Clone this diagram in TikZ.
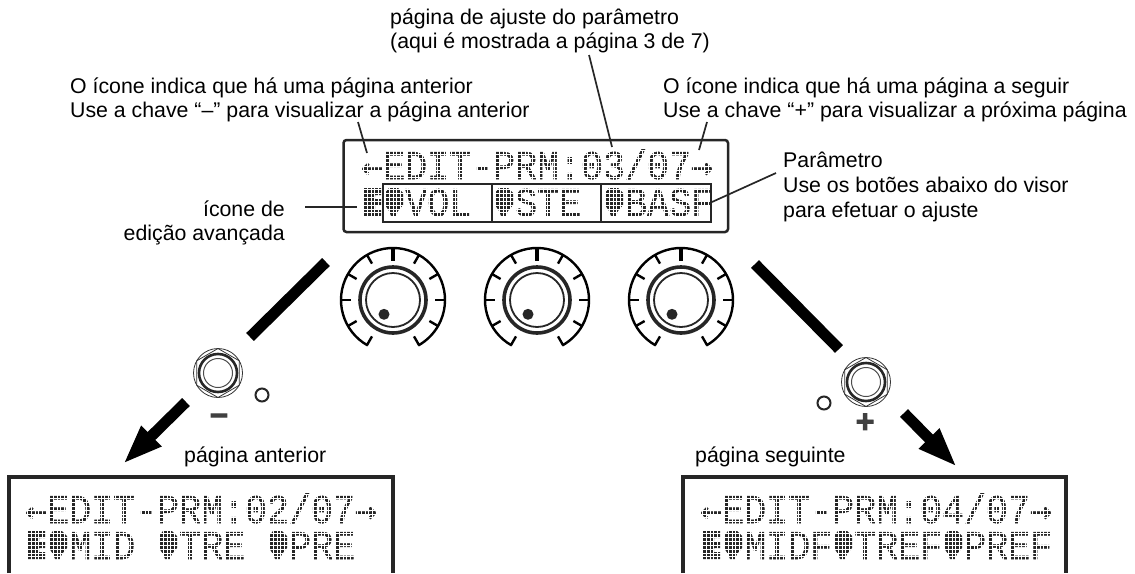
\documentclass[tikz,border=0pt]{standalone}
\usepackage{fontspec}
\setmainfont{Liberation Sans}
\newfontfamily\lcdfont[FakeStretch=0.9,FakeBold=1.5]{Liberation Mono}
\newfontfamily\lcdarrowfont[FakeBold=1.5]{DejaVu Sans Mono}
\newfontfamily\signfont[FakeBold=3]{Liberation Sans Bold}
\usetikzlibrary{arrows.meta}
\colorlet{lcddot}{black!85}
\colorlet{framedark}{black!85}
\newcommand{\lcdleft}{{\lcdarrowfont\fontsize{36.5}{40}\selectfont ←}}
\newcommand{\lcdright}{{\lcdarrowfont\fontsize{36.5}{40}\selectfont →}}
\tikzset{
    note/.style={font=\fontsize{21.3}{24}\selectfont, align=left, inner sep=0pt, anchor=north west},
    lcd/.style={font=\lcdfont\fontsize{40.7}{40}\selectfont, text=lcddot, inner sep=0pt, anchor=base west, text height=27pt, text depth=0pt},
    sign/.style={font=\signfont\fontsize{32}{32}\selectfont, text=black!75, inner sep=0pt},
    leader/.style={black!85, line width=1.7pt},
    bar/.style={black, line width=11pt},
    bararrow/.style={black, line width=11pt, -{Triangle[length=40pt,width=26pt]}},
    knob/.pic={
        \draw[line width=2.4pt](119:52) arc (119:421:52);
        \foreach \a in {120,150,...,420}{
            \draw[line width=2.4pt](\a:52)--(\a:42);
        }
        \draw[line width=3.6pt](270:52)--(270:39);
        \draw[black!85, line width=3.6pt](0,0) circle (33);
        \draw[black!85, line width=1.8pt](0,0) circle (27);
        \fill[black!85](-9,14.3) circle (5.5);
    },
    footswitch/.pic={
        \draw[black!80, line width=0.8pt](0,0) circle (24.5);
        \draw[black!80, line width=0.8pt](90:24.5)--(150:24.5)--(210:24.5)--(270:24.5)--(330:24.5)--(30:24.5)--cycle;
        \draw[black!85, line width=2.6pt](0,0) circle (19);
        \draw[black!70, line width=1pt](0,0) circle (14.5);
    },
    ledring/.pic={
        \draw[black!85, line width=2pt](0,0) circle (6.5);
    },
}
\newcommand{\lcdedit}[2]{% block icon of the first cell
    \fill[lcddot](#1+2,#2-28)--(#1+20,#2-28)--(#1+20,#2-21)--(#1+14,#2-21)--(#1+14,#2-17)--(#1+20,#2-17)--(#1+20,#2-11)--(#1+14,#2-11)--(#1+14,#2-7)--(#1+20,#2-7)--(#1+20,#2)--(#1+2,#2)--cycle;
}
\newcommand{\lcdknob}[2]{% knob icon in front of a parameter
    \fill[lcddot](#1+6,#2-28)--(#1+15,#2-28)--(#1+20,#2-23)--(#1+20,#2-11)--(#1+15,#2-5)--(#1+13,#2)--(#1+8,#2)--(#1+6,#2-5)--(#1+2,#2-11)--(#1+2,#2-23)--cycle;
}
\newcommand{\lcdmask}[3]{% white dot grid laid over two text lines
    \foreach \k in {0,...,96}{
        \draw[white, line width=0.9pt](#1+\k*3.667,#2)--(#1+\k*3.667,#3);
    }
    \foreach \k in {0,...,17}{
        \draw[white, line width=0.9pt](#1,#2+\k*3.9)--(#1+352,#2+\k*3.9);
    }
}
\begin{document}
\begin{tikzpicture}[x=1pt,y=-1pt]
    \useasboundingbox (0,0) rectangle (1135,573);

    \node[note] (notepage) at (390,9) {página de ajuste do parâmetro\\(aqui é mostrada a página 3 de 7)};
    \node[note] (noteprev) at (70,78) {O ícone indica que há uma página anterior\\Use a chave “–” para visualizar a página anterior};
    \node[note] (notenext) at (663,78) {O ícone indica que há uma página a seguir\\Use a chave “+” para visualizar a próxima página};
    \node[note] (noteparam) at (783,152) {Parâmetro\\[1pt]Use os botões abaixo do visor\\[1pt]para efetuar o ajuste};
    \node[note, align=right, anchor=north east] (noteedit) at (285,201) {ícone de\\edição avançada};
    \node[note] (noteback) at (184,447) {página anterior};
    \node[note] (noteforward) at (695,447) {página seguinte};

    % main display
    \lcdedit{361}{216}
    \foreach \x in {383,493,603}{
        \lcdknob{\x}{216}
    }
    \node[lcd] (lcdtop) at (361,179) {\lcdleft EDIT-PRM:03/07\lcdright};
    \node[lcd] (lcdvol) at (405,216) {VOL};
    \node[lcd] (lcdste) at (515,216) {STE};
    \node[lcd] (lcdbasf) at (625,216) {BASF};
    \lcdmask{360}{150.5}{218}
    \draw[framedark, line width=2.5pt, rounded corners=3pt](343.5,140) rectangle (728,232);
    \draw[framedark, line width=2.2pt](383,184) rectangle (711,222);
    \foreach \x in {492,601}{
        \draw[framedark, line width=2.2pt](\x,184)--(\x,222);
    }

    \coordinate (prevtop) at (358,122);
    \coordinate (prevend) at (367,153);
    \coordinate (pagetop) at (589,55);
    \coordinate (pageend) at (612,147);
    \coordinate (nexttop) at (707,122);
    \coordinate (nextend) at (699,150);
    \coordinate (paramtop) at (776,173);
    \coordinate (paramend) at (712,202);
    \coordinate (editstart) at (305,207);
    \coordinate (editend) at (357,207);
    \draw[leader](prevtop)--(prevend);
    \draw[leader](pagetop)--(pageend);
    \draw[leader](nexttop)--(nextend);
    \draw[leader](paramtop)--(paramend);
    \draw[leader](editstart)--(editend);

    % knobs and switches
    \foreach \x in {393,537,681}{
        \pic at (\x,300) {knob};
    }
    \pic at (218,373) {footswitch};
    \pic at (866,382) {footswitch};
    \pic at (262,395) {ledring};
    \pic at (824,403) {ledring};
    \node[sign] (minus) at (219,419) {–};
    \node[sign] (plus) at (865,423) {+};

    \coordinate (barlefttop) at (326,262);
    \coordinate (barleftend) at (250,337);
    \coordinate (barrighttop) at (755,264);
    \coordinate (barrightend) at (839,349);
    \coordinate (arrowleftstart) at (186,402);
    \coordinate (arrowlefttip) at (123,464);
    \coordinate (arrowrightstart) at (904,413);
    \coordinate (arrowrighttip) at (957,467);
    \draw[bar](barlefttop)--(barleftend);
    \draw[bar](barrighttop)--(barrightend);
    \draw[bararrow](arrowleftstart)--(arrowlefttip);
    \draw[bararrow](arrowrightstart)--(arrowrighttip);

    % previous page display
    \lcdedit{25}{559}
    \foreach \x in {47,157,267}{
        \lcdknob{\x}{559}
    }
    \node[lcd] (lcdprevtop) at (25,523) {\lcdleft EDIT-PRM:02/07\lcdright};
    \node[lcd] (lcdmid) at (69,559) {MID};
    \node[lcd] (lcdtre) at (179,559) {TRE};
    \node[lcd] (lcdpre) at (289,559) {PRE};
    \lcdmask{24}{494.5}{561}
    \draw[framedark, line width=3.6pt](9,573)--(9,477)--(393,477)--(393,573);

    % next page display
    \lcdedit{700}{559}
    \foreach \x in {722,832,942}{
        \lcdknob{\x}{559}
    }
    \node[lcd] (lcdnexttop) at (700,523) {\lcdleft EDIT-PRM:04/07\lcdright};
    \node[lcd] (lcdmidf) at (744,559) {MIDF};
    \node[lcd] (lcdtref) at (854,559) {TREF};
    \node[lcd] (lcdpref) at (964,559) {PREF};
    \lcdmask{699}{494.5}{561}
    \draw[framedark, line width=3.6pt](683,573)--(683,477)--(1066,477)--(1066,573);
\end{tikzpicture}
\end{document}
